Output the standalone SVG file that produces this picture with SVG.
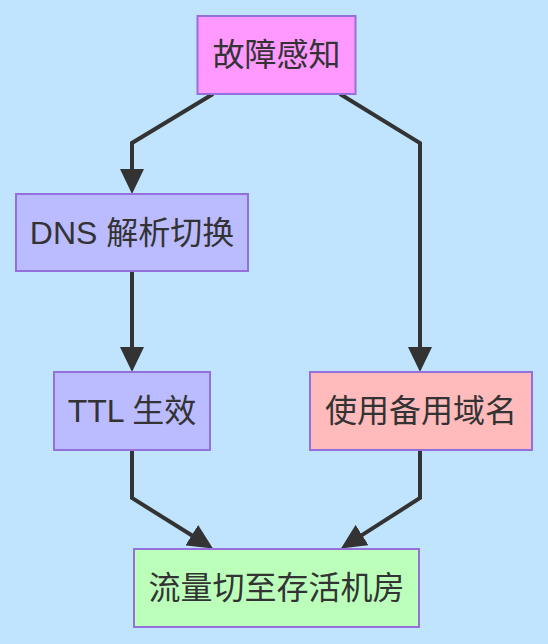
<svg xmlns="http://www.w3.org/2000/svg" width="548" height="644" viewBox="0 0 548 644">
<style>
.node rect{stroke:#9370DB;stroke-width:2}
.node text{font-family:"Liberation Sans","Noto Sans CJK SC",sans-serif;font-size:32px;fill:#333;text-anchor:middle;dominant-baseline:central}
.edge{fill:none;stroke:#333;stroke-width:4}
</style>
<defs>
<marker id="arr" markerUnits="userSpaceOnUse" markerWidth="25" markerHeight="24" viewBox="0 0 25 24" refX="15" refY="12" orient="auto">
<path d="M0,0 L25,12 L0,24 z" fill="#333"/>
</marker>
</defs>
<rect width="548" height="644" fill="#c0e4fd"/>
<g id="connectors">
<path class="edge" d="M213,94 L132,143 L132,184" marker-end="url(#arr)"/>
<path class="edge" d="M340,94 L420,143 L420,362" marker-end="url(#arr)"/>
<path class="edge" d="M132,271 L132,362" marker-end="url(#arr)"/>
<path class="edge" d="M132,450 L132,498 L204.5,543.2" marker-end="url(#arr)"/>
<path class="edge" d="M420,450 L420,498 L349.4,543.1" marker-end="url(#arr)"/>
</g>
<g id="n1" class="node"><rect x="197.5" y="16" width="158" height="78" fill="#ff99ff"/><text x="276.5" y="55">故障感知</text></g>
<g id="n2" class="node"><rect x="16" y="194" width="232" height="77" fill="#bbbbff"/><text x="132" y="232.5">DNS 解析切换</text></g>
<g id="n3" class="node"><rect x="54" y="372" width="156" height="78" fill="#bbbbff"/><text x="132" y="411">TTL 生效</text></g>
<g id="n4" class="node"><rect x="310" y="372" width="222" height="78" fill="#ffbbbb"/><text x="421" y="411">使用备用域名</text></g>
<g id="n5" class="node"><rect x="134" y="549" width="285" height="78" fill="#bbffbb"/><text x="276.5" y="588">流量切至存活机房</text></g>
</svg>
